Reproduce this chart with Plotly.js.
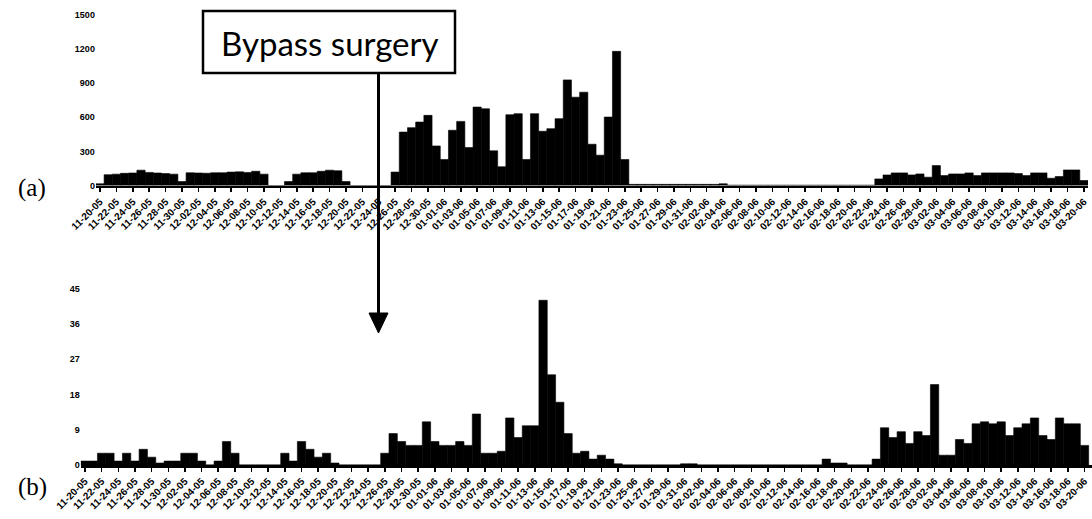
<!DOCTYPE html>
<html>
<head>
<meta charset="utf-8">
<script src="https://cdn.plot.ly/plotly-3.0.1.min.js"></script>
<style>
html,body{margin:0;padding:0;background:#fff;}
#chart{width:1092px;height:519px;}
</style>
</head>
<body>
<div id="chart"></div>
<script>
// Daily categories (MM-DD-YY)
const days = [
 '11-20-05','11-21-05','11-22-05','11-23-05','11-24-05','11-25-05','11-26-05','11-27-05','11-28-05','11-29-05','11-30-05',
 '12-01-05','12-02-05','12-03-05','12-04-05','12-05-05','12-06-05','12-07-05','12-08-05','12-09-05','12-10-05',
 '12-11-05','12-12-05','12-13-05','12-14-05','12-15-05','12-16-05','12-17-05','12-18-05','12-19-05','12-20-05',
 '12-21-05','12-22-05','12-23-05','12-24-05','12-25-05','12-26-05','12-27-05','12-28-05','12-29-05','12-30-05','12-31-05',
 '01-01-06','01-02-06','01-03-06','01-04-06','01-05-06','01-06-06','01-07-06','01-08-06','01-09-06','01-10-06',
 '01-11-06','01-12-06','01-13-06','01-14-06','01-15-06','01-16-06','01-17-06','01-18-06','01-19-06','01-20-06',
 '01-21-06','01-22-06','01-23-06','01-24-06','01-25-06','01-26-06','01-27-06','01-28-06','01-29-06','01-30-06','01-31-06',
 '02-01-06','02-02-06','02-03-06','02-04-06','02-05-06','02-06-06','02-07-06','02-08-06','02-09-06','02-10-06',
 '02-11-06','02-12-06','02-13-06','02-14-06','02-15-06','02-16-06','02-17-06','02-18-06','02-19-06','02-20-06',
 '02-21-06','02-22-06','02-23-06','02-24-06','02-25-06','02-26-06','02-27-06','02-28-06',
 '03-01-06','03-02-06','03-03-06','03-04-06','03-05-06','03-06-06','03-07-06','03-08-06','03-09-06','03-10-06',
 '03-11-06','03-12-06','03-13-06','03-14-06','03-15-06','03-16-06','03-17-06','03-18-06','03-19-06','03-20-06'
];

// Panel (a) daily values
const valuesA = [
 15, 95, 100, 107, 110, 135, 115, 110, 105, 100,
 35, 112, 110, 108, 112, 112, 118, 120, 115, 125,
 100, 0, 0, 35, 100, 112, 112, 125, 135, 130,
 35, 0, 0, 0, 0, 0, 118, 470, 509, 558,
 617, 348, 229, 486, 564, 334, 690, 675, 305, 165,
 623, 632, 229, 632, 477, 500, 588, 929, 777, 821,
 363, 267, 602, 1180, 229, 10, 10, 10, 10, 10,
 10, 10, 10, 10, 10, 10, 15, 3, 3, 3,
 3, 3, 3, 3, 3, 3, 3, 3, 3, 3,
 3, 3, 3, 3, 3, 58, 93, 111, 111, 93,
 102, 73, 175, 87, 102, 102, 111, 87, 111, 111,
 111, 111, 105, 87, 111, 111, 64, 79, 137, 137,
 44
];

// Panel (b) daily values
const valuesB = [
 1, 1, 3, 3, 1, 3, 1, 4, 2, 0.5,
 1, 1, 3, 3, 1, 0, 1, 6, 3, 0,
 0, 0, 0, 0, 3, 1, 6, 4, 2, 3,
 0.5, 0, 0, 0, 0, 0, 3, 8, 6, 5,
 5, 11, 6, 5, 5, 6, 5, 13, 3, 3,
 3.5, 12, 7, 10, 10, 42, 23, 16, 8, 3,
 3.5, 1.5, 2.5, 1.5, 0.3, 0, 0, 0, 0, 0,
 0, 0, 0.3, 0.3, 0, 0, 0, 0, 0, 0,
 0, 0, 0, 0, 0, 0, 0, 0, 0, 1.5,
 0.5, 0.5, 0, 0, 0, 1.5, 9.5, 7, 8.5, 5.5,
 8.5, 7.5, 20.5, 2.5, 2.5, 6.5, 5.5, 10.5, 11, 10.5,
 11, 7.5, 9.5, 10.5, 12, 7.5, 6.5, 12, 10.5, 10.5,
 5
];

const yTicksA = [0, 300, 600, 900, 1200, 1500];
const yTicksB = [0, 9, 18, 27, 36, 45];
const tickLabels = days.filter((d, i) => i % 2 === 0);
const panelLabels = ['(a)', '(b)'];
const eventLabel = 'Bypass surgery';

const W = 1092, H = 519;
const fx = x => x / W;
const fy = y => 1 - y / H;

const xTickFont = {family: 'Liberation Sans, Arial, sans-serif', size: 10, weight: 'bold', color: '#000'};
const yTickFont = {family: 'Liberation Sans, Arial, sans-serif', size: 9, weight: 'bold', color: '#000'};

function xAxis(domain, range, anchor) {
  return {
    domain: domain, anchor: anchor, type: 'category', categoryorder: 'array', categoryarray: days,
    range: range, tickmode: 'array', tickvals: tickLabels, ticktext: tickLabels,
    tickangle: -45, ticks: 'outside', ticklen: 4, tickwidth: 1.5, tickcolor: '#000',
    showline: true, linecolor: '#000', linewidth: 2.5, showgrid: false, zeroline: false,
    tickfont: xTickFont, automargin: false, fixedrange: true
  };
}
function yAxis(domain, range, vals, anchor) {
  return {
    domain: domain, anchor: anchor, range: range, tickmode: 'array', tickvals: vals,
    ticktext: vals.map(String), showline: false, showgrid: false, zeroline: false,
    ticks: '', tickfont: yTickFont, automargin: false, fixedrange: true
  };
}

const traces = [
  {type: 'bar', x: days, y: valuesA, xaxis: 'x', yaxis: 'y',
   marker: {color: '#000', line: {color: '#000', width: 0.6}}, hoverinfo: 'x+y'},
  {type: 'bar', x: days, y: valuesB, xaxis: 'x2', yaxis: 'y2',
   marker: {color: '#000', line: {color: '#000', width: 0.6}}, hoverinfo: 'x+y'}
];

const arrowX = 378.5;
const layout = {
  width: W, height: H, margin: {l: 0, r: 0, t: 0, b: 0},
  paper_bgcolor: '#fff', plot_bgcolor: 'rgba(0,0,0,0)',
  showlegend: false, bargap: 0,
  xaxis: xAxis([fx(95.9), fx(1088)], [-0.5, 120.5], 'y'),
  yaxis: yAxis([fy(185.5), fy(15)], [0, 1500], yTicksA, 'x'),
  xaxis2: xAxis([fx(80.8), 1], [-0.5, 120.9], 'y2'),
  yaxis2: yAxis([fy(465), fy(288.5)], [0, 45], yTicksB, 'x2'),
  shapes: [
    {type: 'rect', xref: 'paper', yref: 'paper', x0: fx(203), x1: fx(455), y0: fy(73), y1: fy(11),
     line: {color: '#000', width: 2.5}, fillcolor: '#fff'},
    {type: 'line', xref: 'paper', yref: 'paper', x0: fx(arrowX), x1: fx(arrowX), y0: fy(74), y1: fy(316),
     line: {color: '#000', width: 3}},
    {type: 'path', xref: 'paper', yref: 'paper',
     path: 'M ' + fx(arrowX - 9.5) + ' ' + fy(313) + ' L ' + fx(arrowX + 9.5) + ' ' + fy(313) +
           ' L ' + fx(arrowX) + ' ' + fy(333) + ' Z',
     fillcolor: '#000', line: {color: '#000', width: 1}}
  ],
  annotations: [
    {text: panelLabels[0], xref: 'paper', yref: 'paper', x: fx(32), y: fy(188), showarrow: false,
     xanchor: 'center', yanchor: 'middle', font: {family: 'Liberation Serif, Times New Roman, serif', size: 25, color: '#000'}},
    {text: panelLabels[1], xref: 'paper', yref: 'paper', x: fx(32), y: fy(487), showarrow: false,
     xanchor: 'center', yanchor: 'middle', font: {family: 'Liberation Serif, Times New Roman, serif', size: 25, color: '#000'}},
    {text: eventLabel, xref: 'paper', yref: 'paper', x: fx(330), y: fy(43), showarrow: false,
     xanchor: 'center', yanchor: 'middle', font: {family: 'Lato, sans-serif', size: 33, color: '#000'}}
  ]
};

Plotly.newPlot('chart', traces, layout, {staticPlot: true, displayModeBar: false});
</script>
</body>
</html>
